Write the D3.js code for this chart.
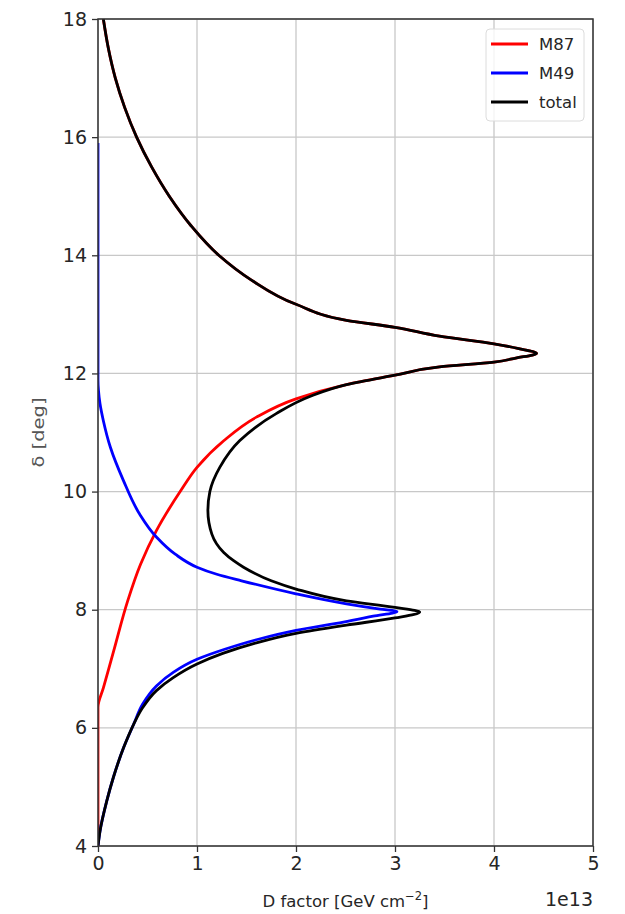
<!DOCTYPE html>
<html>
<head>
<meta charset="utf-8">
<script src="https://cdn.jsdelivr.net/npm/d3@7"></script>
<style>
  body { margin: 0; background: #fff; }
  text { font-family: "DejaVu Sans", sans-serif; }
</style>
</head>
<body>
<svg id="chart" width="625" height="914"></svg>
<script>
// D factor in units of 1e13 GeV cm^-2, delta in deg
const deltaM87 = [18, 17.5, 17.0, 16.5, 16.0, 15.5, 15.0, 14.5, 14.0, 13.58, 13.17, 12.9, 12.78, 12.63, 12.5, 12.42, 12.34, 12.26, 12.19, 12.11, 11.97, 11.81, 11.57, 11.26, 10.86, 10.41, 10.0, 9.34, 8.77, 8.15, 7.31, 6.68, 6.35, 4.0];
const dM87     = [0.054, 0.105, 0.175, 0.27, 0.39, 0.54, 0.72, 0.94, 1.22, 1.55, 2.0, 2.51, 3.0, 3.45, 4.0, 4.25, 4.43, 4.22, 4.0, 3.45, 3.0, 2.51, 2.0, 1.6, 1.27, 1.0, 0.83, 0.59, 0.43, 0.3, 0.16, 0.055, 0.0, 0.0];

const deltaM49 = [15.9, 11.88, 11.71, 11.49, 11.2, 10.75, 10.19, 9.62, 9.23, 8.94, 8.72, 8.6, 8.49, 8.27, 8.1, 8.01, 7.97, 7.89, 7.79, 7.65, 7.5, 7.33, 7.16, 6.94, 6.71, 6.4, 6.06, 5.67, 5.16, 4.76, 4.25, 4.0];
const dM49     = [0.0, 0.0, 0.005, 0.02, 0.054, 0.125, 0.256, 0.42, 0.59, 0.78, 1.0, 1.2, 1.45, 2.0, 2.51, 2.85, 3.02, 2.78, 2.48, 2.0, 1.62, 1.28, 1.0, 0.76, 0.59, 0.45, 0.36, 0.26, 0.155, 0.088, 0.02, 0.0];

const deltaTotal = [18, 17.5, 17.0, 16.5, 16.0, 15.5, 15.0, 14.5, 14.0, 13.58, 13.17, 12.9, 12.78, 12.63, 12.5, 12.42, 12.34, 12.26, 12.19, 12.11, 11.97, 11.81, 11.61, 11.32, 10.86, 10.41, 10.0, 9.68, 9.28, 8.97, 8.83, 8.72, 8.49, 8.35, 8.15, 8.04, 7.96, 7.86, 7.74, 7.6, 7.43, 7.26, 7.08, 6.85, 6.63, 6.34, 6.06, 5.67, 5.16, 4.76, 4.25, 4.0];
const dTotal     = [0.054, 0.105, 0.175, 0.27, 0.39, 0.54, 0.72, 0.94, 1.22, 1.55, 2.0, 2.51, 3.0, 3.45, 4.0, 4.25, 4.43, 4.22, 4.0, 3.45, 3.0, 2.51, 2.14, 1.8, 1.43, 1.23, 1.13, 1.11, 1.15, 1.27, 1.37, 1.47, 1.75, 2.0, 2.51, 3.0, 3.25, 3.0, 2.51, 2.0, 1.58, 1.26, 1.0, 0.76, 0.59, 0.45, 0.36, 0.26, 0.155, 0.088, 0.02, 0.0];

const seriesNames = ["M87", "M49", "total"];
const seriesColors = ["#ff0000", "#0000ff", "#000000"];
const xTicks = [0, 1, 2, 3, 4, 5];
const yTicks = [4, 6, 8, 10, 12, 14, 16, 18];

const svg = d3.select("#chart");
const margin = { top: 19, right: 32, bottom: 68, left: 98 };
const width = 625 - margin.left - margin.right;
const height = 914 - margin.top - margin.bottom;

const x = d3.scaleLinear().domain([0, 5]).range([0, width]);
const y = d3.scaleLinear().domain([4, 18]).range([height, 0]);

const g = svg.append("g").attr("transform", "translate(" + margin.left + "," + margin.top + ")");

g.append("clipPath").attr("id", "clip")
  .append("rect").attr("width", width).attr("height", height);

// grid
g.append("g").selectAll("line").data(xTicks).enter().append("line")
  .attr("x1", d => x(d)).attr("x2", d => x(d))
  .attr("y1", 0).attr("y2", height)
  .attr("stroke", "#c8c8c8").attr("stroke-width", 1.3);
g.append("g").selectAll("line").data(yTicks).enter().append("line")
  .attr("y1", d => y(d)).attr("y2", d => y(d))
  .attr("x1", 0).attr("x2", width)
  .attr("stroke", "#c8c8c8").attr("stroke-width", 1.3);

// axes
const xAxis = g.append("g").attr("transform", "translate(0," + height + ")")
  .call(d3.axisBottom(x).tickValues(xTicks).tickFormat(d3.format("d")).tickSize(6).tickPadding(5));
const yAxis = g.append("g")
  .call(d3.axisLeft(y).tickValues(yTicks).tickFormat(d3.format("d")).tickSize(6).tickPadding(5));
[xAxis, yAxis].forEach(a => {
  a.select(".domain").remove();
  a.selectAll(".tick line").attr("stroke", "#333").attr("stroke-width", 1.3);
  a.selectAll(".tick text").attr("fill", "#262626").style("font-size", "19px");
});

// curves
const line = d3.line()
  .x(d => x(d[0]))
  .y(d => y(d[1]))
  .curve(d3.curveMonotoneY);

const series = [
  { name: "M87", data: d3.zip(dM87, deltaM87) },
  { name: "M49", data: d3.zip(dM49, deltaM49) },
  { name: "total", data: d3.zip(dTotal, deltaTotal) }
];

g.append("g").attr("clip-path", "url(#clip)")
  .selectAll("path").data(series).enter().append("path")
  .attr("d", d => line(d.data))
  .attr("fill", "none")
  .attr("stroke", (d, i) => seriesColors[i])
  .attr("stroke-width", 2.8)
  .attr("stroke-linejoin", "round");

// frame
g.append("rect").attr("width", width).attr("height", height)
  .attr("fill", "none").attr("stroke", "#333").attr("stroke-width", 1.5);

// labels
g.append("text")
  .attr("x", width / 2).attr("y", height + 61)
  .attr("text-anchor", "middle").attr("fill", "#262626")
  .style("font-size", "16.5px")
  .text("D factor [GeV cm")
  .append("tspan").attr("dy", -7).style("font-size", "11.5px").text("\u22122")
  .select(function () { return this.parentNode; })
  .append("tspan").attr("dy", 7).text("]");

g.append("text")
  .attr("x", width).attr("y", height + 60)
  .attr("text-anchor", "end").attr("fill", "#262626")
  .style("font-size", "19px")
  .text("1e13");

g.append("text")
  .attr("transform", "translate(" + (-54) + "," + (height / 2) + ") rotate(-90) scale(1.3,1)")
  .attr("text-anchor", "middle").attr("fill", "#555")
  .style("font-size", "15px")
  .text("\u03b4 [deg]");

// legend
const legend = g.append("g").attr("transform", "translate(" + (width - 107) + ",10)");
legend.append("rect")
  .attr("width", 98).attr("height", 92).attr("rx", 4)
  .attr("fill", "#fff").attr("fill-opacity", 0.8)
  .attr("stroke", "#dcdcdc").attr("stroke-width", 1);
const items = legend.selectAll("g.item").data(seriesNames).enter().append("g")
  .attr("transform", (d, i) => "translate(0," + (15 + i * 29) + ")");
items.append("line")
  .attr("x1", 5).attr("x2", 42)
  .attr("stroke", (d, i) => seriesColors[i]).attr("stroke-width", 2.8);
items.append("text")
  .attr("x", 53).attr("y", 6)
  .attr("fill", "#262626").style("font-size", "16.5px")
  .text(d => d);
</script>
</body>
</html>
